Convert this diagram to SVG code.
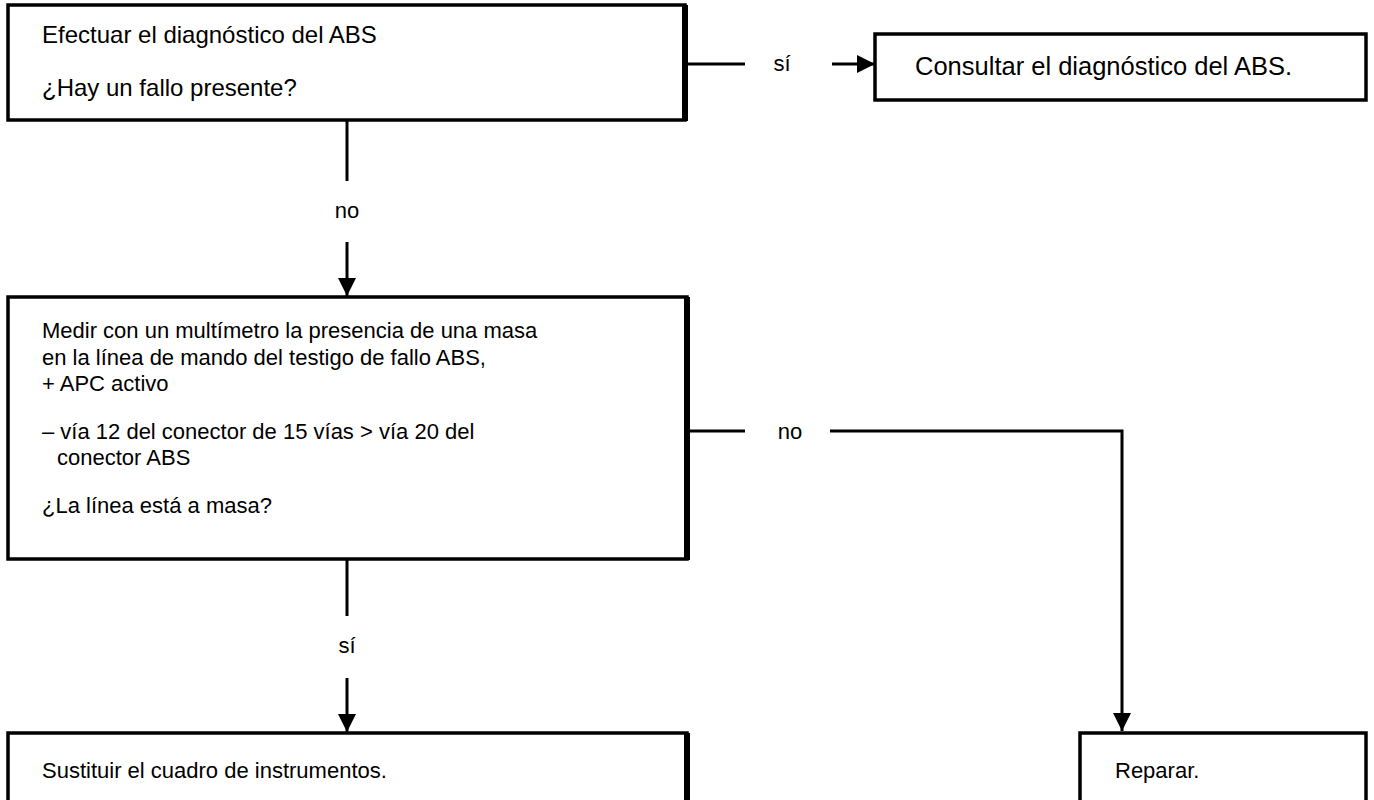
<svg xmlns="http://www.w3.org/2000/svg" width="1374" height="800" viewBox="0 0 1374 800">
<style>
.box{fill:#fff;stroke:#000;stroke-width:3.5}
.edge{stroke:#000;stroke-width:6}
.t{font-family:"Liberation Sans",Arial,sans-serif;font-size:22px;fill:#000}
.big{font-size:24px}
.c{fill:none;stroke:#000;stroke-width:3}
</style>
<defs>
<marker id="ah" markerUnits="userSpaceOnUse" markerWidth="20" markerHeight="20" refX="18" refY="9" orient="auto">
<path d="M0,0 L18,9 L0,18 Z" fill="#000"/>
</marker>
</defs>
<rect width="1374" height="800" fill="#fff"/>
<g id="n1">
<rect class="box" x="8" y="5" width="677" height="115"/>
<line class="edge" x1="685" y1="5" x2="685" y2="121"/>
<text class="t big" x="42" y="43">Efectuar el diagnóstico del ABS</text>
<text class="t big" x="42" y="96">¿Hay un fallo presente?</text>
</g>
<g id="n2">
<rect class="box" x="875" y="34" width="491" height="66"/>
<text class="t" x="915" y="75" style="font-size:25.5px">Consultar el diagnóstico del ABS.</text>
</g>
<g id="n3">
<rect class="box" x="8" y="297" width="679" height="262"/>
<line class="edge" x1="687" y1="297" x2="687" y2="560"/>
<text class="t" x="42" y="338">Medir con un multímetro la presencia de una masa</text>
<text class="t" x="42" y="365">en la línea de mando del testigo de fallo ABS,</text>
<text class="t" x="42" y="391">+ APC activo</text>
<text class="t" x="42" y="439">– vía 12 del conector de 15 vías &gt; vía 20 del</text>
<text class="t" x="57" y="465">conector ABS</text>
<text class="t" x="42" y="513">¿La línea está a masa?</text>
</g>
<g id="n4">
<rect class="box" x="1080" y="733" width="286" height="90"/>
<text class="t" x="1115" y="778">Reparar.</text>
</g>
<g id="n5">
<rect class="box" x="8" y="733" width="679" height="90"/>
<line class="edge" x1="687" y1="733" x2="687" y2="800"/>
<text class="t" x="42" y="778">Sustituir el cuadro de instrumentos.</text>
</g>
<g id="connectors">
<line class="c" x1="687" y1="64" x2="745" y2="64"/>
<text class="t" x="782" y="71" text-anchor="middle">sí</text>
<line class="c" x1="832" y1="64" x2="875" y2="64" marker-end="url(#ah)"/>
<line class="c" x1="347" y1="120" x2="347" y2="181"/>
<text class="t" x="347" y="218" text-anchor="middle">no</text>
<line class="c" x1="347" y1="242" x2="347" y2="296" marker-end="url(#ah)"/>
<line class="c" x1="690" y1="431" x2="745" y2="431"/>
<text class="t" x="790" y="439" text-anchor="middle">no</text>
<polyline class="c" points="830,431 1122,431 1122,731" marker-end="url(#ah)"/>
<line class="c" x1="347" y1="559" x2="347" y2="616"/>
<text class="t" x="347" y="653" text-anchor="middle">sí</text>
<line class="c" x1="347" y1="678" x2="347" y2="732" marker-end="url(#ah)"/>
</g>
</svg>
